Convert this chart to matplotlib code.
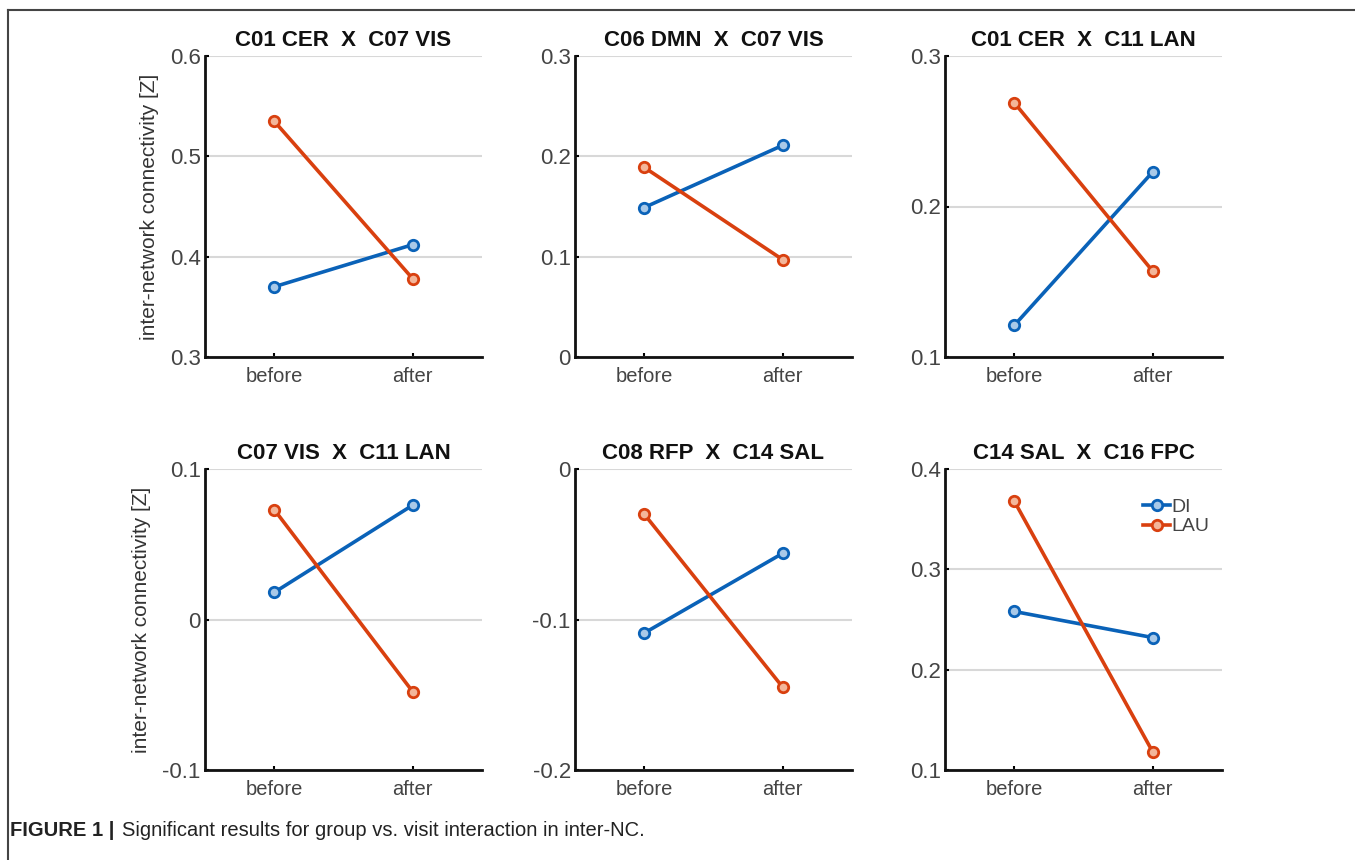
import matplotlib

matplotlib.use("Agg")
import matplotlib.pyplot as plt
from matplotlib.lines import Line2D

plt.rcParams["font.family"] = ["Liberation Sans", "DejaVu Sans"]

# Donnees (Z moyen avant / apres, par groupe)
visits = ["before", "after"]
titles = [
    "C01 CER  X  C07 VIS",
    "C06 DMN  X  C07 VIS",
    "C01 CER  X  C11 LAN",
    "C07 VIS  X  C11 LAN",
    "C08 RFP  X  C14 SAL",
    "C14 SAL  X  C16 FPC",
]
di_values = [
    [0.370, 0.412],
    [0.149, 0.211],
    [0.121, 0.223],
    [0.018, 0.076],
    [-0.109, -0.056],
    [0.258, 0.232],
]
lau_values = [
    [0.535, 0.378],
    [0.189, 0.097],
    [0.269, 0.157],
    [0.073, -0.048],
    [-0.030, -0.145],
    [0.368, 0.118],
]
y_limits = [(0.3, 0.6), (0.0, 0.3), (0.1, 0.3), (-0.1, 0.1), (-0.2, 0.0), (0.1, 0.4)]
y_ticks = [
    [0.3, 0.4, 0.5, 0.6],
    [0, 0.1, 0.2, 0.3],
    [0.1, 0.2, 0.3],
    [-0.1, 0, 0.1],
    [-0.2, -0.1, 0],
    [0.1, 0.2, 0.3, 0.4],
]
tick_labels = [
    ["0.3", "0.4", "0.5", "0.6"],
    ["0", "0.1", "0.2", "0.3"],
    ["0.1", "0.2", "0.3"],
    ["-0.1", "0", "0.1"],
    ["-0.2", "-0.1", "0"],
    ["0.1", "0.2", "0.3", "0.4"],
]
groups = ["DI", "LAU"]

BLUE = "#0a62b8"
RED = "#d9400f"
BLUE_FILL = "#a9c9e8"
RED_FILL = "#f3b69a"
GRID = "#d8d8d8"

W, H = 1355, 860
fig = plt.figure(figsize=(W / 100, H / 100), dpi=100)

# cadre de la figure (haut + gauche seulement visibles)
fig.add_artist(Line2D([8 / W, 1.0], [1 - 10 / H, 1 - 10 / H], color="#444444", lw=1.5))
fig.add_artist(Line2D([8 / W, 8 / W], [0.0, 1 - 10 / H], color="#444444", lw=1.5))

col_left = [205, 575, 945]
row_top = [56, 469]
ax_w, ax_h = 277, 301

xs = [1, 2]
for i, title in enumerate(titles):
    r, c = divmod(i, 3)
    left = col_left[c] / W
    bottom = 1 - (row_top[r] + ax_h) / H
    ax = fig.add_axes([left, bottom, ax_w / W, ax_h / H])

    ax.plot(xs, di_values[i], color=BLUE, lw=2.6, marker="o", ms=7.5,
            mfc=BLUE_FILL, mec=BLUE, mew=2, label=groups[0], zorder=3)
    ax.plot(xs, lau_values[i], color=RED, lw=2.6, marker="o", ms=7.5,
            mfc=RED_FILL, mec=RED, mew=2, label=groups[1], zorder=3)

    ax.set_xlim(0.5, 2.5)
    ax.set_ylim(*y_limits[i])
    ax.set_xticks(xs, visits)
    ax.set_yticks(y_ticks[i], tick_labels[i])
    ax.grid(axis="y", color=GRID, lw=1.5, zorder=0)
    for spine in ("top", "right"):
        ax.spines[spine].set_visible(False)
    for spine in ("left", "bottom"):
        ax.spines[spine].set_linewidth(2)
        ax.spines[spine].set_color("#111111")
    ax.tick_params(axis="x", direction="in", length=3, width=1.5, labelsize=14.5,
                   labelcolor="#444444", pad=7)
    ax.tick_params(axis="y", direction="in", length=3, width=1.5, labelsize=16,
                   labelcolor="#444444", pad=3)
    ax.set_title(title, fontsize=16, fontweight="bold", color="#111111", pad=7)

    if c == 0:
        ax.set_ylabel("inter-network connectivity [Z]", fontsize=15, color="#333333",
                      labelpad=8)
    if i == 5:
        ax.legend(loc="upper left", bbox_to_anchor=(0.68, 0.935), frameon=False,
                  fontsize=14, handlelength=1.4, handletextpad=0.05,
                  labelspacing=0.1, borderpad=0, labelcolor="#444444")

fig.text(10 / W, 1 - 831 / H, "FIGURE 1 |", fontsize=14.5, fontweight="bold",
         color="#222222", va="center")
fig.text(122 / W, 1 - 831 / H,
         "Significant results for group vs. visit interaction in inter-NC.",
         fontsize=14.5, color="#222222", va="center")

fig.savefig("out.png", dpi=100, facecolor="white")
